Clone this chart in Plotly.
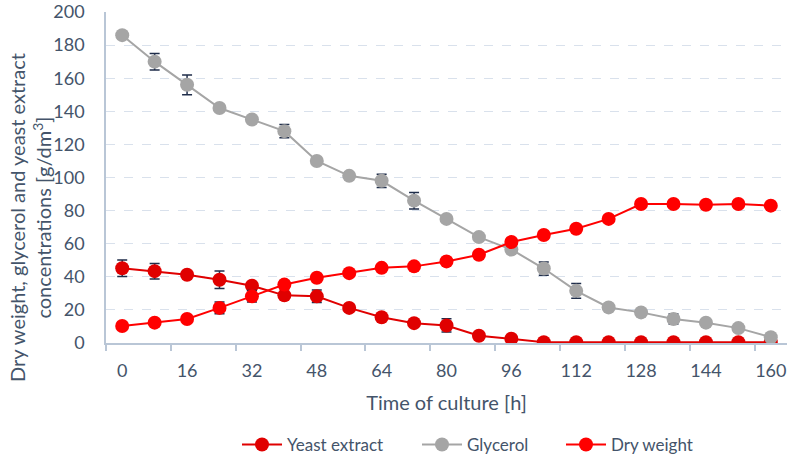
import plotly.graph_objects as go

times = [0, 8, 16, 24, 32, 40, 48, 56, 64, 72, 80, 88, 96, 104, 112, 120, 128, 136, 144, 152, 160]

yeast_extract = [45.2, 43.4, 41.2, 38.2, 34.6, 28.8, 28.2, 21.2, 15.6, 12.0, 10.6, 4.4, 2.6, 0.5, 0.5, 0.5, 0.5, 0.5, 0.5, 0.5, 0.5]
yeast_err = [5.0, 4.7, 2.0, 5.3, 1.5, 1.5, 3.8, 1.5, 1.0, 1.2, 4.0, 1.0, 0.8, 0.3, 0.3, 0.3, 0.3, 0.3, 0.3, 0.3, 0.3]

glycerol = [186, 170, 156, 142, 135, 128, 110, 101, 98, 86, 75, 64, 56.5, 45, 31.5, 21.5, 18.5, 14.5, 12.3, 9, 3.5]
glycerol_err = [2.0, 5.0, 6.0, 1.5, 1.0, 4.0, 0.5, 0.5, 4.0, 5.0, 1.0, 1.0, 1.0, 4.0, 4.5, 1.0, 0.5, 3.0, 1.0, 0.5, 1.0]

dry_weight = [10.3, 12.3, 14.5, 21.2, 28.2, 35.3, 39.4, 42.2, 45.4, 46.3, 49.3, 53.3, 61.0, 65.3, 69.0, 75.0, 84.0, 84.0, 83.5, 84.0, 83.0]
dry_err = [0.5, 0.5, 0.5, 3.5, 3.5, 2.5, 1.0, 0.5, 0.5, 0.5, 0.5, 0.5, 1.0, 1.5, 0.5, 0.5, 0.5, 0.5, 0.5, 0.5, 0.5]

label_times = times[::2]
half_step = (times[1] - times[0]) / 2
tick_marks = [t - half_step for t in label_times]

y_title = "Dry weight, glycerol and yeast extract<br>concentrations [g/dm<sup>3</sup>]"
x_title = "Time of culture [h]"

TEXT = "#44546a"
AXIS = "#b9c6d6"
GRID = "#d9e1ec"
ERR = "#1f2d4a"
FONT = "Lato"
W, H = 795, 462

fig = go.Figure()

series = [
    ("Yeast extract", yeast_extract, yeast_err, "#e00000", "legend"),
    ("Glycerol", glycerol, glycerol_err, "#a5a5a5", "legend2"),
    ("Dry weight", dry_weight, dry_err, "#ff0000", "legend3"),
]
for name, vals, errs, col, leg in series:
    fig.add_trace(go.Scatter(
        x=times, y=vals, name=name, mode="lines+markers",
        line=dict(color=col, width=2),
        marker=dict(color=col, size=14),
        error_y=dict(type="data", array=errs, visible=True, color=ERR, thickness=1.5, width=5),
        legend=leg,
    ))

leg_common = dict(orientation="h", xref="container", yref="container",
                  y=1 - 445 / H, yanchor="middle", xanchor="left",
                  font=dict(size=17, color=TEXT, family=FONT), itemwidth=40,
                  bgcolor="rgba(0,0,0,0)")

fig.update_layout(
    width=W, height=H,
    margin=dict(l=106, r=8, t=12, b=119),
    paper_bgcolor="white", plot_bgcolor="white",
    font=dict(family=FONT, color=TEXT, size=17),
    showlegend=True,
    legend=dict(x=237 / W, **leg_common),
    legend2=dict(x=417 / W, **leg_common),
    legend3=dict(x=561 / W, **leg_common),
    xaxis=dict(
        range=[times[0] - half_step, times[-1] + half_step],
        tickmode="array", tickvals=label_times, ticktext=[str(t) for t in label_times],
        ticks="", showgrid=False, zeroline=False, automargin=False,
        showline=True, linecolor=AXIS, linewidth=1.5, ticklabelstandoff=11,
        tickfont=dict(size=18, color=TEXT),
        minor=dict(tickmode="array", tickvals=tick_marks, ticks="outside", ticklen=6,
                   tickcolor=AXIS, tickwidth=1.5, showgrid=False),
        title=dict(text=x_title, font=dict(size=20, color=TEXT), standoff=16),
    ),
    yaxis=dict(
        range=[0, 200], dtick=20, tick0=0,
        showgrid=True, gridcolor=GRID, griddash="dash", gridwidth=1.2,
        zeroline=False, showline=True, linecolor=AXIS, linewidth=1.5,
        ticks="", ticklabelstandoff=16, automargin=False,
        tickfont=dict(size=18, color=TEXT),
    ),
    annotations=[dict(
        text=y_title, textangle=-90, xref="paper", yref="paper",
        x=(30 - 106) / 681, y=(343 - 218) / 331, xanchor="center", yanchor="middle",
        showarrow=False, font=dict(size=20, color=TEXT, family=FONT),
    )],
)

fig.write_html("out.html", config={"displayModeBar": False},
               post_script="document.body.style.margin='0px';")
